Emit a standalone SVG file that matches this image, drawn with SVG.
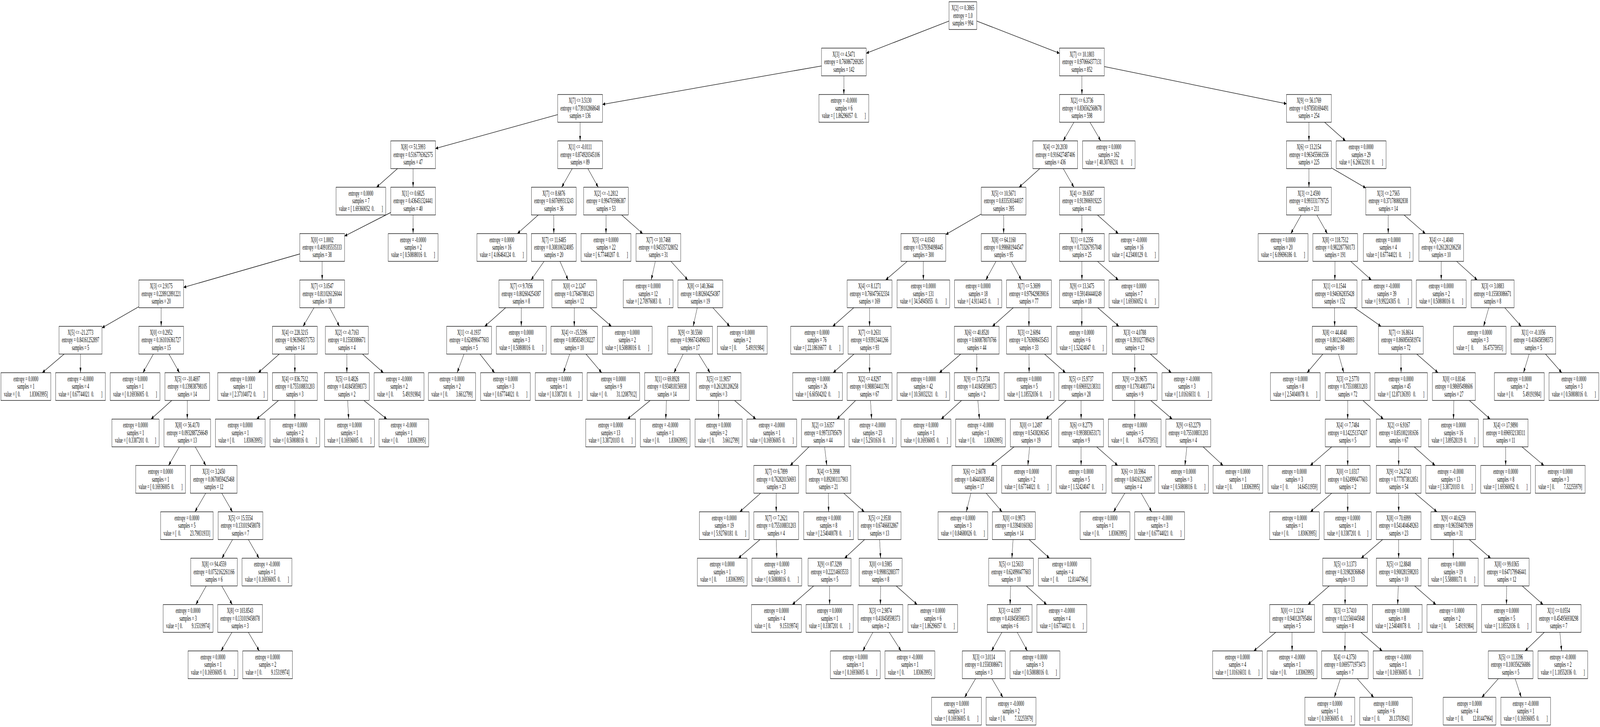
<svg xmlns="http://www.w3.org/2000/svg" width="7971" height="1861" viewBox="0 0 7971 1861" preserveAspectRatio="none" xml:space="preserve">
<style>
svg{width:100vw;height:100vh;display:block}
.nd rect{fill:#fff;stroke:#000;stroke-width:1.3}
.nd text{font-family:"Liberation Serif","Times New Roman",serif;font-size:18px;text-anchor:middle;fill:#000;white-space:pre}
#edges path{fill:none;stroke:#000;stroke-width:1.3;marker-end:url(#arr)}
</style>
<defs>
<marker id="arr" markerWidth="14" markerHeight="10" refX="13" refY="4.5" orient="auto" markerUnits="userSpaceOnUse"><path d="M0,0L13,4.5L0,9z" fill="#000"/></marker>
</defs>
<rect x="0" y="0" width="7971" height="1861" fill="#fff"/>
<g id="edges">
<path d="M4728,53.8L4315.5,136.4"/><path d="M4866,53.8L5278.5,136.4"/><path d="M4092.5,168.8L3001.5,267.3"/><path d="M4204,194.2L4204,241.9"/><path d="M5390,194.2L5390,241.9"/><path d="M5501.5,170.4L6409.5,265.7"/>
<path d="M2778.5,293.3L2169.5,380.2"/><path d="M2890,312.9L2890,360.6"/><path d="M5350.2,312.9L5296.8,360.6"/><path d="M5430.1,312.9L5483.9,360.6"/><path d="M6521,312.9L6521,360.6"/><path d="M6598.8,312.9L6703.2,360.6"/>
<path d="M1980.2,431.6L1875.8,479.3"/><path d="M2058,431.6L2058,479.3"/><path d="M2850.8,431.6L2798.2,479.3"/><path d="M2928.6,431.6L2980.4,479.3"/><path d="M5180.1,431.6L5076.9,479.3"/><path d="M5296.8,431.6L5350.2,479.3"/><path d="M6521,431.6L6521,479.3"/><path d="M6632.5,429.6L6804.5,481.3"/>
<path d="M1946.5,544L1716.5,604.3"/><path d="M2058,550.3L2058,598"/><path d="M2681.5,550.3L2577.5,598"/><path d="M2759,550.3L2759,598"/><path d="M3019,550.3L3019,598"/><path d="M3097.1,550.3L3201.9,598"/><path d="M4888.5,547.9L4711.5,600.4"/><path d="M5000,550.3L5000,598"/><path d="M5390,550.3L5390,598"/><path d="M5467.5,550.3L5571.5,598"/><path d="M6482.4,550.3L6430.6,598"/><path d="M6560.2,550.3L6612.8,598"/><path d="M6916,550.3L6916,598"/><path d="M6995,550.3L7101,598"/>
<path d="M1493.5,650L914.5,735.7"/><path d="M1605,669L1605,716.7"/><path d="M2710.5,669L2645.5,716.7"/><path d="M2789.5,669L2830.5,716.7"/><path d="M3264.7,669L3244.3,716.7"/><path d="M3342.5,669L3426.5,716.7"/><path d="M4519.8,669L4412.2,716.7"/><path d="M4600,669L4600,716.7"/><path d="M4962,669L4911,716.7"/><path d="M5037.7,669L5088.3,716.7"/><path d="M5390,669L5390,716.7"/><path d="M5467.5,669L5571.5,716.7"/><path d="M6651.1,669L6649.9,716.7"/><path d="M6728.9,669L6832.1,716.7"/><path d="M7180,669L7180,716.7"/><path d="M7256.6,669L7359.4,716.7"/>
<path d="M691.5,785.1L508,839.3"/><path d="M803,787.7L803,835.4"/><path d="M1564.3,787.7L1509.7,835.4"/><path d="M1641.8,787.7L1691.2,835.4"/><path d="M2519.2,787.7L2414.8,835.4"/><path d="M2597,787.7L2597,835.4"/><path d="M2861,787.7L2861,835.4"/><path d="M2940,787.7L3046,835.4"/><path d="M3473.7,787.7L3453.3,835.4"/><path d="M3551.5,787.7L3635.5,835.4"/><path d="M4253.6,787.7L4148.4,835.4"/><path d="M4332,787.7L4332,835.4"/><path d="M5048.2,787.7L4943.8,835.4"/><path d="M5126,787.7L5126,835.4"/><path d="M5390,787.7L5389,835.4"/><path d="M5468.7,787.7L5574.3,835.4"/><path d="M6649,787.7L6649,835.4"/><path d="M6747.7,787.7L6880.3,835.4"/><path d="M7416.9,787.7L7391.1,835.4"/><path d="M7496.7,787.7L7578.3,835.4"/>
<path d="M319.6,906.4L210.4,954.1"/><path d="M401,906.4L401,954.1"/><path d="M764.1,906.4L711.9,954.1"/><path d="M841.9,906.4L894.1,954.1"/><path d="M1391.2,906.4L1286.8,954.1"/><path d="M1469,906.4L1469,954.1"/><path d="M1728,906.4L1728,954.1"/><path d="M1805.8,906.4L1910.2,954.1"/><path d="M2311.6,906.4L2277.4,954.1"/><path d="M2391.1,906.4L2463.9,954.1"/><path d="M2838,906.4L2807,954.1"/><path d="M2919.3,906.4L2997.7,954.1"/><path d="M3403.6,906.4L3357.4,954.1"/><path d="M3480.5,906.4L3537.5,954.1"/><path d="M4254.5,906.4L4150.5,954.1"/><path d="M4332,906.4L4332,954.1"/><path d="M4786.4,906.4L4679.6,954.1"/><path d="M4866,906.4L4866,954.1"/><path d="M5126,906.4L5127,954.1"/><path d="M5203.8,906.4L5308.2,954.1"/><path d="M5653,906.4L5653,954.1"/><path d="M5730.8,906.4L5835.2,954.1"/><path d="M6590.4,906.4L6511.6,954.1"/><path d="M6668.4,906.4L6694.6,954.1"/><path d="M6979,906.4L6980,954.1"/><path d="M7058,906.4L7164,954.1"/><path d="M7618.1,906.4L7589.9,954.1"/><path d="M7699.4,906.4L7780.6,954.1"/>
<path d="M855.8,1025.1L752.2,1072.8"/><path d="M933,1025.1L933,1072.8"/><path d="M1387.6,1025.1L1278.4,1072.8"/><path d="M1469,1025.1L1469,1072.8"/><path d="M1731.9,1025.1L1737.1,1072.8"/><path d="M1812.9,1025.1L1927.1,1072.8"/><path d="M3239,1025.1L3126,1072.8"/><path d="M3320.3,1025.1L3316.7,1072.8"/><path d="M3580,1025.1L3580,1072.8"/><path d="M3659.3,1025.1L3765.7,1072.8"/><path d="M4262.6,1025.1L4169.4,1072.8"/><path d="M4336.5,1025.1L4342.5,1072.8"/><path d="M4790.3,1025.1L4688.7,1072.8"/><path d="M4871.7,1025.1L4879.3,1072.8"/><path d="M5311.2,1025.1L5210.8,1072.8"/><path d="M5386,1025.1L5386,1072.8"/><path d="M5653,1025.1L5653,1072.8"/><path d="M5732.9,1025.1L5840.1,1072.8"/><path d="M6714,1025.1L6714,1072.8"/><path d="M6790,1025.1L6892,1072.8"/><path d="M7243,1025.1L7241,1072.8"/><path d="M7320.2,1025.1L7423.8,1072.8"/>
<path d="M893.2,1143.8L839.8,1191.5"/><path d="M972.5,1143.8L1025.5,1191.5"/><path d="M4030.3,1143.8L3936.7,1191.5"/><path d="M4108.1,1143.8L4118.9,1191.5"/><path d="M5051.7,1143.8L4938.3,1191.5"/><path d="M5129.4,1143.8L5120.6,1191.5"/><path d="M5386,1143.8L5386,1191.5"/><path d="M5463.8,1143.8L5568.2,1191.5"/><path d="M5912.8,1143.8L5903.2,1191.5"/><path d="M5993.9,1143.8L6093.1,1191.5"/><path d="M6634.4,1143.8L6527.6,1191.5"/><path d="M6714,1143.8L6714,1191.5"/><path d="M6968,1143.8L6968,1191.5"/><path d="M7045.5,1143.8L7149.5,1191.5"/><path d="M7501,1143.8L7501,1191.5"/><path d="M7582.4,1143.8L7691.6,1191.5"/>
<path d="M1024.9,1262.5L971.1,1310.2"/><path d="M1104.8,1262.5L1158.2,1310.2"/><path d="M3789.5,1262.5L3685.5,1310.2"/><path d="M3867,1262.5L3867,1310.2"/><path d="M4127,1262.5L4128,1310.2"/><path d="M4203.3,1262.5L4305.7,1310.2"/><path d="M4837,1262.5L4814,1310.2"/><path d="M4912.9,1262.5L4992.1,1310.2"/><path d="M5603.8,1262.5L5547.2,1310.2"/><path d="M5685.2,1262.5L5737.8,1310.2"/><path d="M6634.7,1262.5L6528.3,1310.2"/><path d="M6714,1262.5L6714,1310.2"/><path d="M6968,1262.5L6968,1310.2"/><path d="M7049.4,1262.5L7158.6,1310.2"/>
<path d="M1158.5,1381.2L1105.5,1428.9"/><path d="M1237.5,1381.2L1290.5,1428.9"/><path d="M3786.5,1381.2L3678.5,1428.9"/><path d="M3867,1381.2L3870,1428.9"/><path d="M4307.5,1381.2L4207.5,1428.9"/><path d="M4382,1381.2L4387,1428.9"/><path d="M5046.8,1381.2L5041.2,1428.9"/><path d="M5126.7,1381.2L5228.3,1428.9"/><path d="M6888.1,1381.2L6780.9,1428.9"/><path d="M6968,1381.2L6968,1428.9"/><path d="M7240,1381.2L7240,1428.9"/><path d="M7319.6,1381.2L7426.4,1428.9"/>
<path d="M1027.4,1499.9L975.6,1547.6"/><path d="M1104.9,1499.9L1157.1,1547.6"/><path d="M4053.7,1499.9L3947.3,1547.6"/><path d="M4133,1499.9L4133,1547.6"/><path d="M4387,1499.9L4386,1547.6"/><path d="M4464.8,1499.9L4569.2,1547.6"/><path d="M5034.9,1499.9L5032.1,1547.6"/><path d="M5112.7,1499.9L5214.3,1547.6"/><path d="M6622,1499.9L6516,1547.6"/><path d="M6701,1499.9L6701,1547.6"/><path d="M6965.9,1499.9L6963.1,1547.6"/><path d="M7047.3,1499.9L7153.7,1547.6"/><path d="M7506,1499.9L7505,1547.6"/><path d="M7583.5,1499.9L7687.5,1547.6"/>
<path d="M1155.6,1618.6L1101.4,1666.3"/><path d="M1237,1618.6L1292,1666.3"/><path d="M4348.6,1618.6L4298.4,1666.3"/><path d="M4430,1618.6L4489,1666.3"/><path d="M4991.4,1618.6L4939.6,1666.3"/><path d="M5067.7,1618.6L5118.3,1666.3"/><path d="M6355.6,1618.6L6246.4,1666.3"/><path d="M6437,1618.6L6437,1666.3"/><path d="M6701,1618.6L6700,1666.3"/><path d="M6780,1618.6L6886,1666.3"/><path d="M7693.5,1618.6L7597.5,1666.3"/><path d="M7771.3,1618.6L7779.7,1666.3"/>
<path d="M4860.3,1737.3L4805.7,1785"/><path d="M4941.7,1737.3L4996.3,1785"/><path d="M6677.6,1737.3L6647.4,1785"/><path d="M6761.3,1737.3L6843.7,1785"/><path d="M7464.7,1737.3L7382.3,1785"/><path d="M7548.4,1737.3L7578.6,1785"/>
</g>
<g id="nodes">
<g id="n0" class="nd" transform="translate(4797 40)"><rect x="-69" y="-35.5" width="138" height="71"/><text y="-14">X[2] &lt;= 0.3865</text><text y="5.5">entropy = 1.0</text><text y="25">samples = 994</text></g>
<g id="n1" class="nd" transform="translate(4204 158.7)"><rect x="-111.5" y="-35.5" width="223" height="71"/><text y="-14">X[3] &lt;= 4.5471</text><text y="5.5">entropy = 0.760867269285</text><text y="25">samples = 142</text></g>
<g id="n2" class="nd" transform="translate(5390 158.7)"><rect x="-111.5" y="-35.5" width="223" height="71"/><text y="-14">X[7] &lt;= 10.1803</text><text y="5.5">entropy = 0.970664377131</text><text y="25">samples = 852</text></g>
<g id="n3" class="nd" transform="translate(2890 277.4)"><rect x="-111.5" y="-35.5" width="223" height="71"/><text y="-14">X[7] &lt;= 3.5130</text><text y="5.5">entropy = 0.739102868648</text><text y="25">samples = 136</text></g>
<g id="n4" class="nd" transform="translate(4204 277.4)"><rect x="-124" y="-35.5" width="248" height="71"/><text y="-14">entropy = -0.0000</text><text y="5.5">samples = 6</text><text y="25">value = [ 1.86296057  0.        ]</text></g>
<g id="n5" class="nd" transform="translate(5390 277.4)"><rect x="-111.5" y="-35.5" width="223" height="71"/><text y="-14">X[2] &lt;= 6.3736</text><text y="5.5">entropy = 0.836562568678</text><text y="25">samples = 598</text></g>
<g id="n6" class="nd" transform="translate(6521 277.4)"><rect x="-111.5" y="-35.5" width="223" height="71"/><text y="-14">X[9] &lt;= 56.1769</text><text y="5.5">entropy = 0.978581694491</text><text y="25">samples = 254</text></g>
<g id="n7" class="nd" transform="translate(2058 396.1)"><rect x="-111.5" y="-35.5" width="223" height="71"/><text y="-14">X[8] &lt;= 51.5993</text><text y="5.5">entropy = 0.516776362575</text><text y="25">samples = 47</text></g>
<g id="n8" class="nd" transform="translate(2890 396.1)"><rect x="-111.5" y="-35.5" width="223" height="71"/><text y="-14">X[1] &lt;= -0.0111</text><text y="5.5">entropy = 0.874920345106</text><text y="25">samples = 89</text></g>
<g id="n9" class="nd" transform="translate(5257 396.1)"><rect x="-111.5" y="-35.5" width="223" height="71"/><text y="-14">X[4] &lt;= 20.2030</text><text y="5.5">entropy = 0.916427487406</text><text y="25">samples = 436</text></g>
<g id="n10" class="nd" transform="translate(5524 396.1)"><rect x="-131" y="-35.5" width="262" height="71"/><text y="-14">entropy = 0.0000</text><text y="5.5">samples = 162</text><text y="25">value = [ 40.30769231   0.        ]</text></g>
<g id="n11" class="nd" transform="translate(6521 396.1)"><rect x="-111.5" y="-35.5" width="223" height="71"/><text y="-14">X[6] &lt;= 13.2154</text><text y="5.5">entropy = 0.963455661556</text><text y="25">samples = 225</text></g>
<g id="n12" class="nd" transform="translate(6781 396.1)"><rect x="-124" y="-35.5" width="248" height="71"/><text y="-14">entropy = 0.0000</text><text y="5.5">samples = 29</text><text y="25">value = [ 6.26632191  0.        ]</text></g>
<g id="n13" class="nd" transform="translate(1798 514.8)"><rect x="-124" y="-35.5" width="248" height="71"/><text y="-14">entropy = 0.0000</text><text y="5.5">samples = 7</text><text y="25">value = [ 1.69360052  0.        ]</text></g>
<g id="n14" class="nd" transform="translate(2058 514.8)"><rect x="-111.5" y="-35.5" width="223" height="71"/><text y="-14">X[1] &lt;= 0.6825</text><text y="5.5">entropy = 0.436451324441</text><text y="25">samples = 40</text></g>
<g id="n15" class="nd" transform="translate(2759 514.8)"><rect x="-111.5" y="-35.5" width="223" height="71"/><text y="-14">X[7] &lt;= 8.6876</text><text y="5.5">entropy = 0.607699313243</text><text y="25">samples = 36</text></g>
<g id="n16" class="nd" transform="translate(3019 514.8)"><rect x="-111.5" y="-35.5" width="223" height="71"/><text y="-14">X[2] &lt;= -1.2812</text><text y="5.5">entropy = 0.994705986387</text><text y="25">samples = 53</text></g>
<g id="n17" class="nd" transform="translate(5000 514.8)"><rect x="-111.5" y="-35.5" width="223" height="71"/><text y="-14">X[5] &lt;= 10.5671</text><text y="5.5">entropy = 0.833530344037</text><text y="25">samples = 395</text></g>
<g id="n18" class="nd" transform="translate(5390 514.8)"><rect x="-111.5" y="-35.5" width="223" height="71"/><text y="-14">X[4] &lt;= 39.6587</text><text y="5.5">entropy = 0.913906919225</text><text y="25">samples = 41</text></g>
<g id="n19" class="nd" transform="translate(6521 514.8)"><rect x="-111.5" y="-35.5" width="223" height="71"/><text y="-14">X[3] &lt;= 2.4590</text><text y="5.5">entropy = 0.993331779725</text><text y="25">samples = 211</text></g>
<g id="n20" class="nd" transform="translate(6916 514.8)"><rect x="-111.5" y="-35.5" width="223" height="71"/><text y="-14">X[3] &lt;= 2.7565</text><text y="5.5">entropy = 0.371780882838</text><text y="25">samples = 14</text></g>
<g id="n21" class="nd" transform="translate(1605 633.5)"><rect x="-111.5" y="-35.5" width="223" height="71"/><text y="-14">X[0] &lt;= 1.0002</text><text y="5.5">entropy = 0.409185535333</text><text y="25">samples = 38</text></g>
<g id="n22" class="nd" transform="translate(2058 633.5)"><rect x="-124" y="-35.5" width="248" height="71"/><text y="-14">entropy = -0.0000</text><text y="5.5">samples = 2</text><text y="25">value = [ 0.50808016  0.        ]</text></g>
<g id="n23" class="nd" transform="translate(2500 633.5)"><rect x="-124" y="-35.5" width="248" height="71"/><text y="-14">entropy = 0.0000</text><text y="5.5">samples = 16</text><text y="25">value = [ 4.06464124  0.        ]</text></g>
<g id="n24" class="nd" transform="translate(2759 633.5)"><rect x="-111.5" y="-35.5" width="223" height="71"/><text y="-14">X[7] &lt;= 11.6485</text><text y="5.5">entropy = 0.308106324085</text><text y="25">samples = 20</text></g>
<g id="n25" class="nd" transform="translate(3019 633.5)"><rect x="-124" y="-35.5" width="248" height="71"/><text y="-14">entropy = 0.0000</text><text y="5.5">samples = 22</text><text y="25">value = [ 6.77440207  0.        ]</text></g>
<g id="n26" class="nd" transform="translate(3280 633.5)"><rect x="-111.5" y="-35.5" width="223" height="71"/><text y="-14">X[7] &lt;= 10.7468</text><text y="5.5">entropy = 0.945357328052</text><text y="25">samples = 31</text></g>
<g id="n27" class="nd" transform="translate(4600 633.5)"><rect x="-111.5" y="-35.5" width="223" height="71"/><text y="-14">X[3] &lt;= 4.0343</text><text y="5.5">entropy = 0.579394098445</text><text y="25">samples = 300</text></g>
<g id="n28" class="nd" transform="translate(5000 633.5)"><rect x="-111.5" y="-35.5" width="223" height="71"/><text y="-14">X[8] &lt;= 64.1160</text><text y="5.5">entropy = 0.998681944547</text><text y="25">samples = 95</text></g>
<g id="n29" class="nd" transform="translate(5390 633.5)"><rect x="-111.5" y="-35.5" width="223" height="71"/><text y="-14">X[1] &lt;= 0.2356</text><text y="5.5">entropy = 0.733267957048</text><text y="25">samples = 25</text></g>
<g id="n30" class="nd" transform="translate(5649 633.5)"><rect x="-124" y="-35.5" width="248" height="71"/><text y="-14">entropy = -0.0000</text><text y="5.5">samples = 16</text><text y="25">value = [ 4.23400129  0.        ]</text></g>
<g id="n31" class="nd" transform="translate(6392 633.5)"><rect x="-124" y="-35.5" width="248" height="71"/><text y="-14">entropy = 0.0000</text><text y="5.5">samples = 20</text><text y="25">value = [ 6.09696186  0.        ]</text></g>
<g id="n32" class="nd" transform="translate(6652 633.5)"><rect x="-111.5" y="-35.5" width="223" height="71"/><text y="-14">X[8] &lt;= 118.7512</text><text y="5.5">entropy = 0.982287760173</text><text y="25">samples = 191</text></g>
<g id="n33" class="nd" transform="translate(6916 633.5)"><rect x="-124" y="-35.5" width="248" height="71"/><text y="-14">entropy = 0.0000</text><text y="5.5">samples = 4</text><text y="25">value = [ 0.67744021  0.        ]</text></g>
<g id="n34" class="nd" transform="translate(7180 633.5)"><rect x="-111.5" y="-35.5" width="223" height="71"/><text y="-14">X[4] &lt;= -1.4040</text><text y="5.5">entropy = 0.261281206258</text><text y="25">samples = 10</text></g>
<g id="n35" class="nd" transform="translate(803 752.2)"><rect x="-111.5" y="-35.5" width="223" height="71"/><text y="-14">X[3] &lt;= 2.9175</text><text y="5.5">entropy = 0.228912891221</text><text y="25">samples = 20</text></g>
<g id="n36" class="nd" transform="translate(1605 752.2)"><rect x="-111.5" y="-35.5" width="223" height="71"/><text y="-14">X[7] &lt;= 3.0547</text><text y="5.5">entropy = 0.811026126044</text><text y="25">samples = 18</text></g>
<g id="n37" class="nd" transform="translate(2597 752.2)"><rect x="-111.5" y="-35.5" width="223" height="71"/><text y="-14">X[7] &lt;= 9.7056</text><text y="5.5">entropy = 0.802604254387</text><text y="25">samples = 8</text></g>
<g id="n38" class="nd" transform="translate(2861 752.2)"><rect x="-111.5" y="-35.5" width="223" height="71"/><text y="-14">X[0] &lt;= 2.1247</text><text y="5.5">entropy = 0.176467881423</text><text y="25">samples = 12</text></g>
<g id="n39" class="nd" transform="translate(3229 752.2)"><rect x="-124" y="-35.5" width="248" height="71"/><text y="-14">entropy = 0.0000</text><text y="5.5">samples = 12</text><text y="25">value = [ 2.70976083  0.        ]</text></g>
<g id="n40" class="nd" transform="translate(3489 752.2)"><rect x="-111.5" y="-35.5" width="223" height="71"/><text y="-14">X[8] &lt;= 140.3644</text><text y="5.5">entropy = 0.802604254387</text><text y="25">samples = 19</text></g>
<g id="n41" class="nd" transform="translate(4332 752.2)"><rect x="-111.5" y="-35.5" width="223" height="71"/><text y="-14">X[4] &lt;= 8.1271</text><text y="5.5">entropy = 0.760475632334</text><text y="25">samples = 169</text></g>
<g id="n42" class="nd" transform="translate(4600 752.2)"><rect x="-131" y="-35.5" width="262" height="71"/><text y="-14">entropy = 0.0000</text><text y="5.5">samples = 131</text><text y="25">value = [ 34.54945055   0.        ]</text></g>
<g id="n43" class="nd" transform="translate(4873 752.2)"><rect x="-117.5" y="-35.5" width="235" height="71"/><text y="-14">entropy = 0.0000</text><text y="5.5">samples = 18</text><text y="25">value = [ 4.9114415  0.       ]</text></g>
<g id="n44" class="nd" transform="translate(5126 752.2)"><rect x="-111.5" y="-35.5" width="223" height="71"/><text y="-14">X[7] &lt;= 5.3699</text><text y="5.5">entropy = 0.979429839816</text><text y="25">samples = 77</text></g>
<g id="n45" class="nd" transform="translate(5390 752.2)"><rect x="-111.5" y="-35.5" width="223" height="71"/><text y="-14">X[9] &lt;= 13.3475</text><text y="5.5">entropy = 0.591404440249</text><text y="25">samples = 18</text></g>
<g id="n46" class="nd" transform="translate(5649 752.2)"><rect x="-124" y="-35.5" width="248" height="71"/><text y="-14">entropy = 0.0000</text><text y="5.5">samples = 7</text><text y="25">value = [ 1.69360052  0.        ]</text></g>
<g id="n47" class="nd" transform="translate(6649 752.2)"><rect x="-111.5" y="-35.5" width="223" height="71"/><text y="-14">X[1] &lt;= 0.1544</text><text y="5.5">entropy = 0.946362835428</text><text y="25">samples = 152</text></g>
<g id="n48" class="nd" transform="translate(6909 752.2)"><rect x="-124" y="-35.5" width="248" height="71"/><text y="-14">entropy = -0.0000</text><text y="5.5">samples = 39</text><text y="25">value = [ 9.99224305  0.        ]</text></g>
<g id="n49" class="nd" transform="translate(7180 752.2)"><rect x="-124" y="-35.5" width="248" height="71"/><text y="-14">entropy = 0.0000</text><text y="5.5">samples = 2</text><text y="25">value = [ 0.50808016  0.        ]</text></g>
<g id="n50" class="nd" transform="translate(7436 752.2)"><rect x="-107" y="-35.5" width="214" height="71"/><text y="-14">X[3] &lt;= 3.0883</text><text y="5.5">entropy = 0.15583086671</text><text y="25">samples = 8</text></g>
<g id="n51" class="nd" transform="translate(401 870.9)"><rect x="-107" y="-35.5" width="214" height="71"/><text y="-14">X[5] &lt;= -21.2773</text><text y="5.5">entropy = 0.84161252897</text><text y="25">samples = 5</text></g>
<g id="n52" class="nd" transform="translate(803 870.9)"><rect x="-111.5" y="-35.5" width="223" height="71"/><text y="-14">X[0] &lt;= 0.2952</text><text y="5.5">entropy = 0.161016361727</text><text y="25">samples = 15</text></g>
<g id="n53" class="nd" transform="translate(1469 870.9)"><rect x="-111.5" y="-35.5" width="223" height="71"/><text y="-14">X[4] &lt;= 228.3215</text><text y="5.5">entropy = 0.963949371753</text><text y="25">samples = 14</text></g>
<g id="n54" class="nd" transform="translate(1728 870.9)"><rect x="-107" y="-35.5" width="214" height="71"/><text y="-14">X[2] &lt;= -0.7163</text><text y="5.5">entropy = 0.15583086671</text><text y="25">samples = 4</text></g>
<g id="n55" class="nd" transform="translate(2337 870.9)"><rect x="-111.5" y="-35.5" width="223" height="71"/><text y="-14">X[1] &lt;= -0.1937</text><text y="5.5">entropy = 0.624990477603</text><text y="25">samples = 5</text></g>
<g id="n56" class="nd" transform="translate(2597 870.9)"><rect x="-124" y="-35.5" width="248" height="71"/><text y="-14">entropy = 0.0000</text><text y="5.5">samples = 3</text><text y="25">value = [ 0.50808016  0.        ]</text></g>
<g id="n57" class="nd" transform="translate(2861 870.9)"><rect x="-116" y="-35.5" width="232" height="71"/><text y="-14">X[4] &lt;= -15.5396</text><text y="5.5">entropy = 0.0858349130227</text><text y="25">samples = 10</text></g>
<g id="n58" class="nd" transform="translate(3125 870.9)"><rect x="-124" y="-35.5" width="248" height="71"/><text y="-14">entropy = 0.0000</text><text y="5.5">samples = 2</text><text y="25">value = [ 0.50808016  0.        ]</text></g>
<g id="n59" class="nd" transform="translate(3438 870.9)"><rect x="-111.5" y="-35.5" width="223" height="71"/><text y="-14">X[9] &lt;= 30.5560</text><text y="5.5">entropy = 0.966743496033</text><text y="25">samples = 17</text></g>
<g id="n60" class="nd" transform="translate(3698 870.9)"><rect x="-124" y="-35.5" width="248" height="71"/><text y="-14">entropy = 0.0000</text><text y="5.5">samples = 2</text><text y="25">value = [ 0.          5.49191984]</text></g>
<g id="n61" class="nd" transform="translate(4070 870.9)"><rect x="-131" y="-35.5" width="262" height="71"/><text y="-14">entropy = 0.0000</text><text y="5.5">samples = 76</text><text y="25">value = [ 22.18616677   0.        ]</text></g>
<g id="n62" class="nd" transform="translate(4332 870.9)"><rect x="-107" y="-35.5" width="214" height="71"/><text y="-14">X[7] &lt;= 0.2631</text><text y="5.5">entropy = 0.93913441266</text><text y="25">samples = 93</text></g>
<g id="n63" class="nd" transform="translate(4866 870.9)"><rect x="-111.5" y="-35.5" width="223" height="71"/><text y="-14">X[6] &lt;= 40.8520</text><text y="5.5">entropy = 0.600878070766</text><text y="25">samples = 44</text></g>
<g id="n64" class="nd" transform="translate(5126 870.9)"><rect x="-111.5" y="-35.5" width="223" height="71"/><text y="-14">X[3] &lt;= 2.6094</text><text y="5.5">entropy = 0.763698435453</text><text y="25">samples = 33</text></g>
<g id="n65" class="nd" transform="translate(5389 870.9)"><rect x="-124" y="-35.5" width="248" height="71"/><text y="-14">entropy = 0.0000</text><text y="5.5">samples = 6</text><text y="25">value = [ 1.52424047  0.        ]</text></g>
<g id="n66" class="nd" transform="translate(5653 870.9)"><rect x="-111.5" y="-35.5" width="223" height="71"/><text y="-14">X[3] &lt;= 4.0788</text><text y="5.5">entropy = 0.391027789419</text><text y="25">samples = 12</text></g>
<g id="n67" class="nd" transform="translate(6649 870.9)"><rect x="-111.5" y="-35.5" width="223" height="71"/><text y="-14">X[8] &lt;= 44.4040</text><text y="5.5">entropy = 0.801214648893</text><text y="25">samples = 80</text></g>
<g id="n68" class="nd" transform="translate(6979 870.9)"><rect x="-111.5" y="-35.5" width="223" height="71"/><text y="-14">X[7] &lt;= 16.8614</text><text y="5.5">entropy = 0.860856581974</text><text y="25">samples = 72</text></g>
<g id="n69" class="nd" transform="translate(7372 870.9)"><rect x="-131" y="-35.5" width="262" height="71"/><text y="-14">entropy = 0.0000</text><text y="5.5">samples = 3</text><text y="25">value = [  0.          16.47575953]</text></g>
<g id="n70" class="nd" transform="translate(7639 870.9)"><rect x="-111.5" y="-35.5" width="223" height="71"/><text y="-14">X[1] &lt;= -0.1056</text><text y="5.5">entropy = 0.418458598373</text><text y="25">samples = 5</text></g>
<g id="n71" class="nd" transform="translate(129 989.6)"><rect x="-124" y="-35.5" width="248" height="71"/><text y="-14">entropy = 0.0000</text><text y="5.5">samples = 1</text><text y="25">value = [ 0.          1.83063995]</text></g>
<g id="n72" class="nd" transform="translate(401 989.6)"><rect x="-124" y="-35.5" width="248" height="71"/><text y="-14">entropy = -0.0000</text><text y="5.5">samples = 4</text><text y="25">value = [ 0.67744021  0.        ]</text></g>
<g id="n73" class="nd" transform="translate(673 989.6)"><rect x="-124" y="-35.5" width="248" height="71"/><text y="-14">entropy = 0.0000</text><text y="5.5">samples = 1</text><text y="25">value = [ 0.16936005  0.        ]</text></g>
<g id="n74" class="nd" transform="translate(933 989.6)"><rect x="-111.5" y="-35.5" width="223" height="71"/><text y="-14">X[5] &lt;= -10.4697</text><text y="5.5">entropy = 0.139838798105</text><text y="25">samples = 14</text></g>
<g id="n75" class="nd" transform="translate(1209 989.6)"><rect x="-124" y="-35.5" width="248" height="71"/><text y="-14">entropy = 0.0000</text><text y="5.5">samples = 11</text><text y="25">value = [ 2.37104072  0.        ]</text></g>
<g id="n76" class="nd" transform="translate(1469 989.6)"><rect x="-111.5" y="-35.5" width="223" height="71"/><text y="-14">X[4] &lt;= 836.7512</text><text y="5.5">entropy = 0.755108831203</text><text y="25">samples = 3</text></g>
<g id="n77" class="nd" transform="translate(1728 989.6)"><rect x="-111.5" y="-35.5" width="223" height="71"/><text y="-14">X[5] &lt;= 0.4826</text><text y="5.5">entropy = 0.418458598373</text><text y="25">samples = 2</text></g>
<g id="n78" class="nd" transform="translate(1988 989.6)"><rect x="-124" y="-35.5" width="248" height="71"/><text y="-14">entropy = -0.0000</text><text y="5.5">samples = 2</text><text y="25">value = [ 0.          5.49191984]</text></g>
<g id="n79" class="nd" transform="translate(2252 989.6)"><rect x="-117.5" y="-35.5" width="235" height="71"/><text y="-14">entropy = 0.0000</text><text y="5.5">samples = 2</text><text y="25">value = [ 0.         3.6612799]</text></g>
<g id="n80" class="nd" transform="translate(2518 989.6)"><rect x="-124" y="-35.5" width="248" height="71"/><text y="-14">entropy = 0.0000</text><text y="5.5">samples = 3</text><text y="25">value = [ 0.67744021  0.        ]</text></g>
<g id="n81" class="nd" transform="translate(2784 989.6)"><rect x="-117.5" y="-35.5" width="235" height="71"/><text y="-14">entropy = 0.0000</text><text y="5.5">samples = 1</text><text y="25">value = [ 0.3387201  0.       ]</text></g>
<g id="n82" class="nd" transform="translate(3056 989.6)"><rect x="-131" y="-35.5" width="262" height="71"/><text y="-14">entropy = 0.0000</text><text y="5.5">samples = 9</text><text y="25">value = [  0.          31.12087912]</text></g>
<g id="n83" class="nd" transform="translate(3323 989.6)"><rect x="-111.5" y="-35.5" width="223" height="71"/><text y="-14">X[1] &lt;= 69.8928</text><text y="5.5">entropy = 0.934818156938</text><text y="25">samples = 14</text></g>
<g id="n84" class="nd" transform="translate(3580 989.6)"><rect x="-111.5" y="-35.5" width="223" height="71"/><text y="-14">X[5] &lt;= 11.9057</text><text y="5.5">entropy = 0.261281206258</text><text y="25">samples = 3</text></g>
<g id="n85" class="nd" transform="translate(4073 989.6)"><rect x="-124" y="-35.5" width="248" height="71"/><text y="-14">entropy = 0.0000</text><text y="5.5">samples = 26</text><text y="25">value = [ 6.60504202  0.        ]</text></g>
<g id="n86" class="nd" transform="translate(4332 989.6)"><rect x="-111.5" y="-35.5" width="223" height="71"/><text y="-14">X[2] &lt;= 4.8297</text><text y="5.5">entropy = 0.988034411791</text><text y="25">samples = 67</text></g>
<g id="n87" class="nd" transform="translate(4600 989.6)"><rect x="-131" y="-35.5" width="262" height="71"/><text y="-14">entropy = 0.0000</text><text y="5.5">samples = 42</text><text y="25">value = [ 10.50032321   0.        ]</text></g>
<g id="n88" class="nd" transform="translate(4866 989.6)"><rect x="-111.5" y="-35.5" width="223" height="71"/><text y="-14">X[9] &lt;= 173.3734</text><text y="5.5">entropy = 0.418458598373</text><text y="25">samples = 2</text></g>
<g id="n89" class="nd" transform="translate(5127 989.6)"><rect x="-124" y="-35.5" width="248" height="71"/><text y="-14">entropy = 0.0000</text><text y="5.5">samples = 5</text><text y="25">value = [ 1.18552036  0.        ]</text></g>
<g id="n90" class="nd" transform="translate(5386 989.6)"><rect x="-111.5" y="-35.5" width="223" height="71"/><text y="-14">X[5] &lt;= 15.9737</text><text y="5.5">entropy = 0.696932138311</text><text y="25">samples = 28</text></g>
<g id="n91" class="nd" transform="translate(5653 989.6)"><rect x="-111.5" y="-35.5" width="223" height="71"/><text y="-14">X[9] &lt;= 20.9675</text><text y="5.5">entropy = 0.179140837714</text><text y="25">samples = 9</text></g>
<g id="n92" class="nd" transform="translate(5913 989.6)"><rect x="-124" y="-35.5" width="248" height="71"/><text y="-14">entropy = -0.0000</text><text y="5.5">samples = 3</text><text y="25">value = [ 1.01616031  0.        ]</text></g>
<g id="n93" class="nd" transform="translate(6453 989.6)"><rect x="-124" y="-35.5" width="248" height="71"/><text y="-14">entropy = 0.0000</text><text y="5.5">samples = 8</text><text y="25">value = [ 2.54040078  0.        ]</text></g>
<g id="n94" class="nd" transform="translate(6714 989.6)"><rect x="-111.5" y="-35.5" width="223" height="71"/><text y="-14">X[3] &lt;= 2.5770</text><text y="5.5">entropy = 0.755108831203</text><text y="25">samples = 72</text></g>
<g id="n95" class="nd" transform="translate(6980 989.6)"><rect x="-131" y="-35.5" width="262" height="71"/><text y="-14">entropy = 0.0000</text><text y="5.5">samples = 45</text><text y="25">value = [ 12.87136393   0.        ]</text></g>
<g id="n96" class="nd" transform="translate(7243 989.6)"><rect x="-107" y="-35.5" width="214" height="71"/><text y="-14">X[0] &lt;= 0.8146</text><text y="5.5">entropy = 0.98695498606</text><text y="25">samples = 27</text></g>
<g id="n97" class="nd" transform="translate(7569 989.6)"><rect x="-124" y="-35.5" width="248" height="71"/><text y="-14">entropy = 0.0000</text><text y="5.5">samples = 2</text><text y="25">value = [ 0.          5.49191984]</text></g>
<g id="n98" class="nd" transform="translate(7841 989.6)"><rect x="-124" y="-35.5" width="248" height="71"/><text y="-14">entropy = 0.0000</text><text y="5.5">samples = 3</text><text y="25">value = [ 0.50808016  0.        ]</text></g>
<g id="n99" class="nd" transform="translate(675 1108.3)"><rect x="-117.5" y="-35.5" width="235" height="71"/><text y="-14">entropy = 0.0000</text><text y="5.5">samples = 1</text><text y="25">value = [ 0.3387201  0.       ]</text></g>
<g id="n100" class="nd" transform="translate(933 1108.3)"><rect x="-116" y="-35.5" width="232" height="71"/><text y="-14">X[8] &lt;= 56.4170</text><text y="5.5">entropy = 0.0932887256649</text><text y="25">samples = 13</text></g>
<g id="n101" class="nd" transform="translate(1197 1108.3)"><rect x="-124" y="-35.5" width="248" height="71"/><text y="-14">entropy = 0.0000</text><text y="5.5">samples = 1</text><text y="25">value = [ 0.          1.83063995]</text></g>
<g id="n102" class="nd" transform="translate(1469 1108.3)"><rect x="-124" y="-35.5" width="248" height="71"/><text y="-14">entropy = 0.0000</text><text y="5.5">samples = 2</text><text y="25">value = [ 0.50808016  0.        ]</text></g>
<g id="n103" class="nd" transform="translate(1741 1108.3)"><rect x="-124" y="-35.5" width="248" height="71"/><text y="-14">entropy = 0.0000</text><text y="5.5">samples = 1</text><text y="25">value = [ 0.16936005  0.        ]</text></g>
<g id="n104" class="nd" transform="translate(2012 1108.3)"><rect x="-124" y="-35.5" width="248" height="71"/><text y="-14">entropy = -0.0000</text><text y="5.5">samples = 1</text><text y="25">value = [ 0.          1.83063995]</text></g>
<g id="n105" class="nd" transform="translate(3042 1108.3)"><rect x="-124" y="-35.5" width="248" height="71"/><text y="-14">entropy = 0.0000</text><text y="5.5">samples = 13</text><text y="25">value = [ 3.38720103  0.        ]</text></g>
<g id="n106" class="nd" transform="translate(3314 1108.3)"><rect x="-124" y="-35.5" width="248" height="71"/><text y="-14">entropy = -0.0000</text><text y="5.5">samples = 1</text><text y="25">value = [ 0.          1.83063995]</text></g>
<g id="n107" class="nd" transform="translate(3580 1108.3)"><rect x="-117.5" y="-35.5" width="235" height="71"/><text y="-14">entropy = 0.0000</text><text y="5.5">samples = 2</text><text y="25">value = [ 0.         3.6612799]</text></g>
<g id="n108" class="nd" transform="translate(3845 1108.3)"><rect x="-124" y="-35.5" width="248" height="71"/><text y="-14">entropy = -0.0000</text><text y="5.5">samples = 1</text><text y="25">value = [ 0.16936005  0.        ]</text></g>
<g id="n109" class="nd" transform="translate(4100 1108.3)"><rect x="-107" y="-35.5" width="214" height="71"/><text y="-14">X[2] &lt;= 3.6357</text><text y="5.5">entropy = 0.99733785679</text><text y="25">samples = 44</text></g>
<g id="n110" class="nd" transform="translate(4347 1108.3)"><rect x="-117.5" y="-35.5" width="235" height="71"/><text y="-14">entropy = -0.0000</text><text y="5.5">samples = 23</text><text y="25">value = [ 5.2501616  0.       ]</text></g>
<g id="n111" class="nd" transform="translate(4613 1108.3)"><rect x="-124" y="-35.5" width="248" height="71"/><text y="-14">entropy = 0.0000</text><text y="5.5">samples = 1</text><text y="25">value = [ 0.16936005  0.        ]</text></g>
<g id="n112" class="nd" transform="translate(4885 1108.3)"><rect x="-124" y="-35.5" width="248" height="71"/><text y="-14">entropy = -0.0000</text><text y="5.5">samples = 1</text><text y="25">value = [ 0.          1.83063995]</text></g>
<g id="n113" class="nd" transform="translate(5136 1108.3)"><rect x="-102.5" y="-35.5" width="205" height="71"/><text y="-14">X[0] &lt;= 1.2497</text><text y="5.5">entropy = 0.5438206345</text><text y="25">samples = 19</text></g>
<g id="n114" class="nd" transform="translate(5386 1108.3)"><rect x="-111.5" y="-35.5" width="223" height="71"/><text y="-14">X[6] &lt;= 8.2779</text><text y="5.5">entropy = 0.993883653171</text><text y="25">samples = 9</text></g>
<g id="n115" class="nd" transform="translate(5653 1108.3)"><rect x="-131" y="-35.5" width="262" height="71"/><text y="-14">entropy = 0.0000</text><text y="5.5">samples = 5</text><text y="25">value = [  0.          16.47575953]</text></g>
<g id="n116" class="nd" transform="translate(5920 1108.3)"><rect x="-111.5" y="-35.5" width="223" height="71"/><text y="-14">X[9] &lt;= 63.2279</text><text y="5.5">entropy = 0.755108831203</text><text y="25">samples = 4</text></g>
<g id="n117" class="nd" transform="translate(6714 1108.3)"><rect x="-111.5" y="-35.5" width="223" height="71"/><text y="-14">X[4] &lt;= 7.7484</text><text y="5.5">entropy = 0.142251374207</text><text y="25">samples = 5</text></g>
<g id="n118" class="nd" transform="translate(6968 1108.3)"><rect x="-111.5" y="-35.5" width="223" height="71"/><text y="-14">X[2] &lt;= 6.9167</text><text y="5.5">entropy = 0.851002181636</text><text y="25">samples = 67</text></g>
<g id="n119" class="nd" transform="translate(7241 1108.3)"><rect x="-124" y="-35.5" width="248" height="71"/><text y="-14">entropy = 0.0000</text><text y="5.5">samples = 16</text><text y="25">value = [ 3.89528119  0.        ]</text></g>
<g id="n120" class="nd" transform="translate(7501 1108.3)"><rect x="-111.5" y="-35.5" width="223" height="71"/><text y="-14">X[4] &lt;= 17.9890</text><text y="5.5">entropy = 0.696932138311</text><text y="25">samples = 11</text></g>
<g id="n121" class="nd" transform="translate(800 1227)"><rect x="-124" y="-35.5" width="248" height="71"/><text y="-14">entropy = 0.0000</text><text y="5.5">samples = 1</text><text y="25">value = [ 0.16936005  0.        ]</text></g>
<g id="n122" class="nd" transform="translate(1065 1227)"><rect x="-116" y="-35.5" width="232" height="71"/><text y="-14">X[3] &lt;= 3.2450</text><text y="5.5">entropy = 0.0670859425468</text><text y="25">samples = 12</text></g>
<g id="n123" class="nd" transform="translate(3867 1227)"><rect x="-111.5" y="-35.5" width="223" height="71"/><text y="-14">X[7] &lt;= 6.7899</text><text y="5.5">entropy = 0.762820150693</text><text y="25">samples = 23</text></g>
<g id="n124" class="nd" transform="translate(4127 1227)"><rect x="-111.5" y="-35.5" width="223" height="71"/><text y="-14">X[4] &lt;= 9.3998</text><text y="5.5">entropy = 0.892001117903</text><text y="25">samples = 21</text></g>
<g id="n125" class="nd" transform="translate(4854 1227)"><rect x="-111.5" y="-35.5" width="223" height="71"/><text y="-14">X[6] &lt;= 2.6078</text><text y="5.5">entropy = 0.464410839548</text><text y="25">samples = 17</text></g>
<g id="n126" class="nd" transform="translate(5114 1227)"><rect x="-124" y="-35.5" width="248" height="71"/><text y="-14">entropy = 0.0000</text><text y="5.5">samples = 2</text><text y="25">value = [ 0.67744021  0.        ]</text></g>
<g id="n127" class="nd" transform="translate(5386 1227)"><rect x="-124" y="-35.5" width="248" height="71"/><text y="-14">entropy = 0.0000</text><text y="5.5">samples = 5</text><text y="25">value = [ 1.52424047  0.        ]</text></g>
<g id="n128" class="nd" transform="translate(5646 1227)"><rect x="-107" y="-35.5" width="214" height="71"/><text y="-14">X[6] &lt;= 10.5964</text><text y="5.5">entropy = 0.84161252897</text><text y="25">samples = 4</text></g>
<g id="n129" class="nd" transform="translate(5896 1227)"><rect x="-124" y="-35.5" width="248" height="71"/><text y="-14">entropy = 0.0000</text><text y="5.5">samples = 3</text><text y="25">value = [ 0.50808016  0.        ]</text></g>
<g id="n130" class="nd" transform="translate(6167 1227)"><rect x="-124" y="-35.5" width="248" height="71"/><text y="-14">entropy = 0.0000</text><text y="5.5">samples = 1</text><text y="25">value = [ 0.          1.83063995]</text></g>
<g id="n131" class="nd" transform="translate(6448 1227)"><rect x="-131" y="-35.5" width="262" height="71"/><text y="-14">entropy = 0.0000</text><text y="5.5">samples = 3</text><text y="25">value = [  0.          14.64511959]</text></g>
<g id="n132" class="nd" transform="translate(6714 1227)"><rect x="-111.5" y="-35.5" width="223" height="71"/><text y="-14">X[0] &lt;= 1.0317</text><text y="5.5">entropy = 0.624990477603</text><text y="25">samples = 2</text></g>
<g id="n133" class="nd" transform="translate(6968 1227)"><rect x="-111.5" y="-35.5" width="223" height="71"/><text y="-14">X[9] &lt;= 24.2743</text><text y="5.5">entropy = 0.777873812851</text><text y="25">samples = 54</text></g>
<g id="n134" class="nd" transform="translate(7227 1227)"><rect x="-124" y="-35.5" width="248" height="71"/><text y="-14">entropy = -0.0000</text><text y="5.5">samples = 13</text><text y="25">value = [ 3.38720103  0.        ]</text></g>
<g id="n135" class="nd" transform="translate(7501 1227)"><rect x="-124" y="-35.5" width="248" height="71"/><text y="-14">entropy = 0.0000</text><text y="5.5">samples = 8</text><text y="25">value = [ 1.69360052  0.        ]</text></g>
<g id="n136" class="nd" transform="translate(7773 1227)"><rect x="-124" y="-35.5" width="248" height="71"/><text y="-14">entropy = 0.0000</text><text y="5.5">samples = 3</text><text y="25">value = [ 0.          7.32255979]</text></g>
<g id="n137" class="nd" transform="translate(931 1345.7)"><rect x="-131" y="-35.5" width="262" height="71"/><text y="-14">entropy = 0.0000</text><text y="5.5">samples = 5</text><text y="25">value = [  0.          23.79831933]</text></g>
<g id="n138" class="nd" transform="translate(1198 1345.7)"><rect x="-111.5" y="-35.5" width="223" height="71"/><text y="-14">X[5] &lt;= 15.5554</text><text y="5.5">entropy = 0.131019458078</text><text y="25">samples = 7</text></g>
<g id="n139" class="nd" transform="translate(3608 1345.7)"><rect x="-124" y="-35.5" width="248" height="71"/><text y="-14">entropy = 0.0000</text><text y="5.5">samples = 19</text><text y="25">value = [ 5.92760181  0.        ]</text></g>
<g id="n140" class="nd" transform="translate(3867 1345.7)"><rect x="-111.5" y="-35.5" width="223" height="71"/><text y="-14">X[7] &lt;= 7.2621</text><text y="5.5">entropy = 0.755108831203</text><text y="25">samples = 4</text></g>
<g id="n141" class="nd" transform="translate(4128 1345.7)"><rect x="-124" y="-35.5" width="248" height="71"/><text y="-14">entropy = 0.0000</text><text y="5.5">samples = 8</text><text y="25">value = [ 2.54040078  0.        ]</text></g>
<g id="n142" class="nd" transform="translate(4382 1345.7)"><rect x="-107" y="-35.5" width="214" height="71"/><text y="-14">X[5] &lt;= 2.9530</text><text y="5.5">entropy = 0.67466832867</text><text y="25">samples = 13</text></g>
<g id="n143" class="nd" transform="translate(4797 1345.7)"><rect x="-124" y="-35.5" width="248" height="71"/><text y="-14">entropy = 0.0000</text><text y="5.5">samples = 3</text><text y="25">value = [ 0.84680026  0.        ]</text></g>
<g id="n144" class="nd" transform="translate(5051 1345.7)"><rect x="-107" y="-35.5" width="214" height="71"/><text y="-14">X[0] &lt;= 0.9973</text><text y="5.5">entropy = 0.33940160363</text><text y="25">samples = 14</text></g>
<g id="n145" class="nd" transform="translate(5505 1345.7)"><rect x="-124" y="-35.5" width="248" height="71"/><text y="-14">entropy = 0.0000</text><text y="5.5">samples = 1</text><text y="25">value = [ 0.          1.83063995]</text></g>
<g id="n146" class="nd" transform="translate(5777 1345.7)"><rect x="-124" y="-35.5" width="248" height="71"/><text y="-14">entropy = -0.0000</text><text y="5.5">samples = 3</text><text y="25">value = [ 0.67744021  0.        ]</text></g>
<g id="n147" class="nd" transform="translate(6449 1345.7)"><rect x="-124" y="-35.5" width="248" height="71"/><text y="-14">entropy = 0.0000</text><text y="5.5">samples = 1</text><text y="25">value = [ 0.          1.83063995]</text></g>
<g id="n148" class="nd" transform="translate(6714 1345.7)"><rect x="-117.5" y="-35.5" width="235" height="71"/><text y="-14">entropy = 0.0000</text><text y="5.5">samples = 1</text><text y="25">value = [ 0.3387201  0.       ]</text></g>
<g id="n149" class="nd" transform="translate(6968 1345.7)"><rect x="-111.5" y="-35.5" width="223" height="71"/><text y="-14">X[8] &lt;= 70.6999</text><text y="5.5">entropy = 0.541404649263</text><text y="25">samples = 23</text></g>
<g id="n150" class="nd" transform="translate(7240 1345.7)"><rect x="-111.5" y="-35.5" width="223" height="71"/><text y="-14">X[9] &lt;= 40.6259</text><text y="5.5">entropy = 0.963594079199</text><text y="25">samples = 31</text></g>
<g id="n151" class="nd" transform="translate(1066 1464.4)"><rect x="-116" y="-35.5" width="232" height="71"/><text y="-14">X[8] &lt;= 94.4559</text><text y="5.5">entropy = 0.0752162261166</text><text y="25">samples = 6</text></g>
<g id="n152" class="nd" transform="translate(1330 1464.4)"><rect x="-124" y="-35.5" width="248" height="71"/><text y="-14">entropy = -0.0000</text><text y="5.5">samples = 1</text><text y="25">value = [ 0.16936005  0.        ]</text></g>
<g id="n153" class="nd" transform="translate(3598 1464.4)"><rect x="-124" y="-35.5" width="248" height="71"/><text y="-14">entropy = 0.0000</text><text y="5.5">samples = 1</text><text y="25">value = [ 0.          1.83063995]</text></g>
<g id="n154" class="nd" transform="translate(3870 1464.4)"><rect x="-124" y="-35.5" width="248" height="71"/><text y="-14">entropy = 0.0000</text><text y="5.5">samples = 3</text><text y="25">value = [ 0.50808016  0.        ]</text></g>
<g id="n155" class="nd" transform="translate(4133 1464.4)"><rect x="-107" y="-35.5" width="214" height="71"/><text y="-14">X[9] &lt;= 87.3299</text><text y="5.5">entropy = 0.22214603533</text><text y="25">samples = 5</text></g>
<g id="n156" class="nd" transform="translate(4387 1464.4)"><rect x="-107" y="-35.5" width="214" height="71"/><text y="-14">X[0] &lt;= 0.5985</text><text y="5.5">entropy = 0.99803288377</text><text y="25">samples = 8</text></g>
<g id="n157" class="nd" transform="translate(5037 1464.4)"><rect x="-111.5" y="-35.5" width="223" height="71"/><text y="-14">X[5] &lt;= 12.5633</text><text y="5.5">entropy = 0.624990477603</text><text y="25">samples = 10</text></g>
<g id="n158" class="nd" transform="translate(5304 1464.4)"><rect x="-131" y="-35.5" width="262" height="71"/><text y="-14">entropy = 0.0000</text><text y="5.5">samples = 4</text><text y="25">value = [  0.          12.81447964]</text></g>
<g id="n159" class="nd" transform="translate(6701 1464.4)"><rect x="-111.5" y="-35.5" width="223" height="71"/><text y="-14">X[5] &lt;= 3.1373</text><text y="5.5">entropy = 0.319828368649</text><text y="25">samples = 13</text></g>
<g id="n160" class="nd" transform="translate(6968 1464.4)"><rect x="-111.5" y="-35.5" width="223" height="71"/><text y="-14">X[5] &lt;= 12.8848</text><text y="5.5">entropy = 0.900281598203</text><text y="25">samples = 10</text></g>
<g id="n161" class="nd" transform="translate(7240 1464.4)"><rect x="-124" y="-35.5" width="248" height="71"/><text y="-14">entropy = 0.0000</text><text y="5.5">samples = 19</text><text y="25">value = [ 5.58888171  0.        ]</text></g>
<g id="n162" class="nd" transform="translate(7506 1464.4)"><rect x="-111.5" y="-35.5" width="223" height="71"/><text y="-14">X[8] &lt;= 99.0365</text><text y="5.5">entropy = 0.647179946441</text><text y="25">samples = 12</text></g>
<g id="n163" class="nd" transform="translate(937 1583.1)"><rect x="-124" y="-35.5" width="248" height="71"/><text y="-14">entropy = 0.0000</text><text y="5.5">samples = 3</text><text y="25">value = [ 0.          9.15319974]</text></g>
<g id="n164" class="nd" transform="translate(1196 1583.1)"><rect x="-111.5" y="-35.5" width="223" height="71"/><text y="-14">X[8] &lt;= 103.8543</text><text y="5.5">entropy = 0.131019458078</text><text y="25">samples = 3</text></g>
<g id="n165" class="nd" transform="translate(3868 1583.1)"><rect x="-124" y="-35.5" width="248" height="71"/><text y="-14">entropy = 0.0000</text><text y="5.5">samples = 4</text><text y="25">value = [ 0.          9.15319974]</text></g>
<g id="n166" class="nd" transform="translate(4133 1583.1)"><rect x="-117.5" y="-35.5" width="235" height="71"/><text y="-14">entropy = 0.0000</text><text y="5.5">samples = 1</text><text y="25">value = [ 0.3387201  0.       ]</text></g>
<g id="n167" class="nd" transform="translate(4386 1583.1)"><rect x="-111.5" y="-35.5" width="223" height="71"/><text y="-14">X[3] &lt;= 2.9874</text><text y="5.5">entropy = 0.418458598373</text><text y="25">samples = 2</text></g>
<g id="n168" class="nd" transform="translate(4647 1583.1)"><rect x="-124" y="-35.5" width="248" height="71"/><text y="-14">entropy = 0.0000</text><text y="5.5">samples = 6</text><text y="25">value = [ 1.86296057  0.        ]</text></g>
<g id="n169" class="nd" transform="translate(5030 1583.1)"><rect x="-111.5" y="-35.5" width="223" height="71"/><text y="-14">X[3] &lt;= 4.0397</text><text y="5.5">entropy = 0.418458598373</text><text y="25">samples = 6</text></g>
<g id="n170" class="nd" transform="translate(5290 1583.1)"><rect x="-124" y="-35.5" width="248" height="71"/><text y="-14">entropy = -0.0000</text><text y="5.5">samples = 4</text><text y="25">value = [ 0.67744021  0.        ]</text></g>
<g id="n171" class="nd" transform="translate(6437 1583.1)"><rect x="-111.5" y="-35.5" width="223" height="71"/><text y="-14">X[0] &lt;= 1.1214</text><text y="5.5">entropy = 0.940120795484</text><text y="25">samples = 5</text></g>
<g id="n172" class="nd" transform="translate(6701 1583.1)"><rect x="-111.5" y="-35.5" width="223" height="71"/><text y="-14">X[3] &lt;= 3.7410</text><text y="5.5">entropy = 0.121560445848</text><text y="25">samples = 8</text></g>
<g id="n173" class="nd" transform="translate(6961 1583.1)"><rect x="-124" y="-35.5" width="248" height="71"/><text y="-14">entropy = 0.0000</text><text y="5.5">samples = 8</text><text y="25">value = [ 2.54040078  0.        ]</text></g>
<g id="n174" class="nd" transform="translate(7233 1583.1)"><rect x="-124" y="-35.5" width="248" height="71"/><text y="-14">entropy = 0.0000</text><text y="5.5">samples = 2</text><text y="25">value = [ 0.          5.49191984]</text></g>
<g id="n175" class="nd" transform="translate(7505 1583.1)"><rect x="-124" y="-35.5" width="248" height="71"/><text y="-14">entropy = 0.0000</text><text y="5.5">samples = 5</text><text y="25">value = [ 1.18552036  0.        ]</text></g>
<g id="n176" class="nd" transform="translate(7765 1583.1)"><rect x="-111.5" y="-35.5" width="223" height="71"/><text y="-14">X[1] &lt;= 0.0554</text><text y="5.5">entropy = 0.454956938298</text><text y="25">samples = 7</text></g>
<g id="n177" class="nd" transform="translate(1061 1701.8)"><rect x="-124" y="-35.5" width="248" height="71"/><text y="-14">entropy = 0.0000</text><text y="5.5">samples = 1</text><text y="25">value = [ 0.16936005  0.        ]</text></g>
<g id="n178" class="nd" transform="translate(1333 1701.8)"><rect x="-124" y="-35.5" width="248" height="71"/><text y="-14">entropy = 0.0000</text><text y="5.5">samples = 2</text><text y="25">value = [ 0.          9.15319974]</text></g>
<g id="n179" class="nd" transform="translate(4261 1701.8)"><rect x="-124" y="-35.5" width="248" height="71"/><text y="-14">entropy = 0.0000</text><text y="5.5">samples = 1</text><text y="25">value = [ 0.16936005  0.        ]</text></g>
<g id="n180" class="nd" transform="translate(4533 1701.8)"><rect x="-124" y="-35.5" width="248" height="71"/><text y="-14">entropy = -0.0000</text><text y="5.5">samples = 1</text><text y="25">value = [ 0.          1.83063995]</text></g>
<g id="n181" class="nd" transform="translate(4901 1701.8)"><rect x="-107" y="-35.5" width="214" height="71"/><text y="-14">X[3] &lt;= 3.0114</text><text y="5.5">entropy = 0.15583086671</text><text y="25">samples = 3</text></g>
<g id="n182" class="nd" transform="translate(5156 1701.8)"><rect x="-124" y="-35.5" width="248" height="71"/><text y="-14">entropy = 0.0000</text><text y="5.5">samples = 3</text><text y="25">value = [ 0.50808016  0.        ]</text></g>
<g id="n183" class="nd" transform="translate(6165 1701.8)"><rect x="-124" y="-35.5" width="248" height="71"/><text y="-14">entropy = 0.0000</text><text y="5.5">samples = 4</text><text y="25">value = [ 1.01616031  0.        ]</text></g>
<g id="n184" class="nd" transform="translate(6437 1701.8)"><rect x="-124" y="-35.5" width="248" height="71"/><text y="-14">entropy = -0.0000</text><text y="5.5">samples = 1</text><text y="25">value = [ 0.          1.83063995]</text></g>
<g id="n185" class="nd" transform="translate(6700 1701.8)"><rect x="-116" y="-35.5" width="232" height="71"/><text y="-14">X[4] &lt;= 4.3750</text><text y="5.5">entropy = 0.0695771973473</text><text y="25">samples = 7</text></g>
<g id="n186" class="nd" transform="translate(6965 1701.8)"><rect x="-124" y="-35.5" width="248" height="71"/><text y="-14">entropy = -0.0000</text><text y="5.5">samples = 1</text><text y="25">value = [ 0.16936005  0.        ]</text></g>
<g id="n187" class="nd" transform="translate(7526 1701.8)"><rect x="-111.5" y="-35.5" width="223" height="71"/><text y="-14">X[5] &lt;= 11.3396</text><text y="5.5">entropy = 0.100356256886</text><text y="25">samples = 5</text></g>
<g id="n188" class="nd" transform="translate(7786 1701.8)"><rect x="-124" y="-35.5" width="248" height="71"/><text y="-14">entropy = -0.0000</text><text y="5.5">samples = 2</text><text y="25">value = [ 1.18552036  0.        ]</text></g>
<g id="n189" class="nd" transform="translate(4765 1820.5)"><rect x="-124" y="-35.5" width="248" height="71"/><text y="-14">entropy = 0.0000</text><text y="5.5">samples = 1</text><text y="25">value = [ 0.16936005  0.        ]</text></g>
<g id="n190" class="nd" transform="translate(5037 1820.5)"><rect x="-124" y="-35.5" width="248" height="71"/><text y="-14">entropy = -0.0000</text><text y="5.5">samples = 2</text><text y="25">value = [ 0.          7.32255979]</text></g>
<g id="n191" class="nd" transform="translate(6625 1820.5)"><rect x="-124" y="-35.5" width="248" height="71"/><text y="-14">entropy = 0.0000</text><text y="5.5">samples = 1</text><text y="25">value = [ 0.16936005  0.        ]</text></g>
<g id="n192" class="nd" transform="translate(6905 1820.5)"><rect x="-131" y="-35.5" width="262" height="71"/><text y="-14">entropy = 0.0000</text><text y="5.5">samples = 6</text><text y="25">value = [  0.          20.13703943]</text></g>
<g id="n193" class="nd" transform="translate(7321 1820.5)"><rect x="-131" y="-35.5" width="262" height="71"/><text y="-14">entropy = 0.0000</text><text y="5.5">samples = 4</text><text y="25">value = [  0.          12.81447964]</text></g>
<g id="n194" class="nd" transform="translate(7601 1820.5)"><rect x="-124" y="-35.5" width="248" height="71"/><text y="-14">entropy = -0.0000</text><text y="5.5">samples = 1</text><text y="25">value = [ 0.16936005  0.        ]</text></g>
</g>
</svg>
